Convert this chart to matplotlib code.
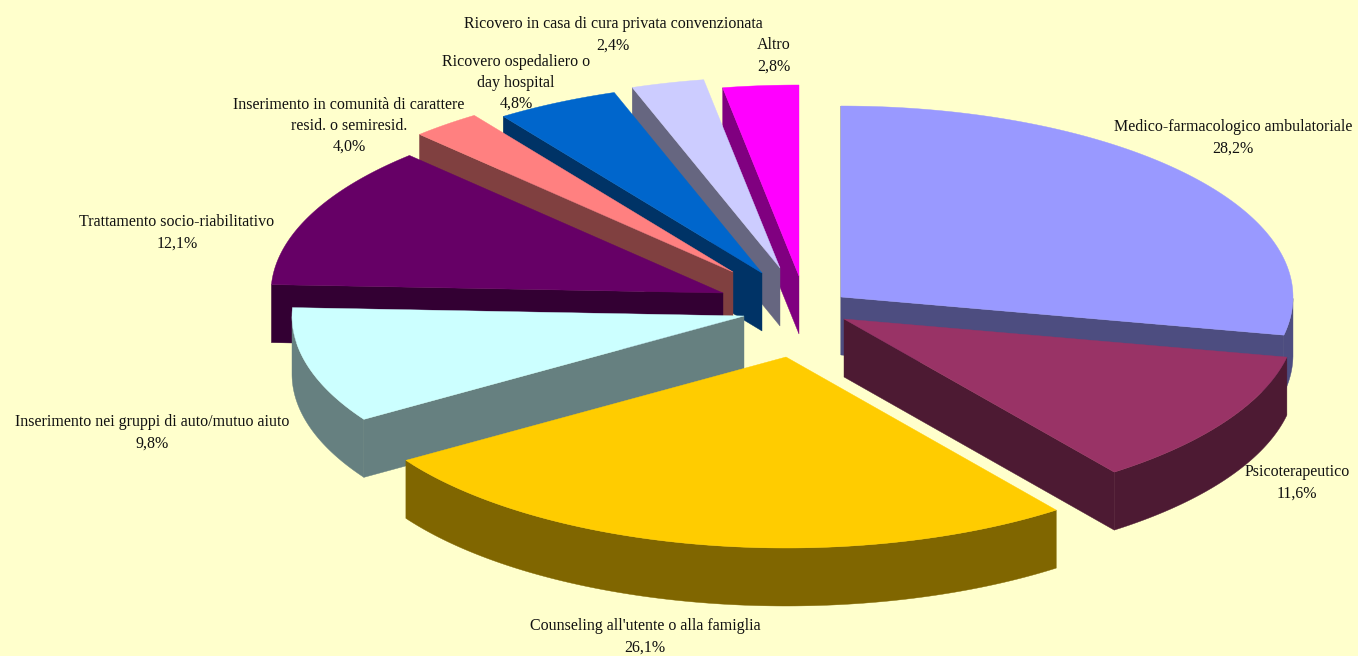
import numpy as np
import matplotlib
matplotlib.use("Agg")
import matplotlib.pyplot as plt
from matplotlib.patches import Polygon

# shares as the slices are drawn (the 4,0% label sits on a slice of about 2.5)
names = ["Medico-farmacologico ambulatoriale", "Psicoterapeutico",
         "Counseling all'utente o alla famiglia",
         "Inserimento nei gruppi di auto/mutuo aiuto",
         "Trattamento socio-riabilitativo",
         "Inserimento in comunità di carattere\nresid. o semiresid.",
         "Ricovero ospedaliero o\nday hospital",
         "Ricovero in casa di cura privata convenzionata", "Altro"]
shares = [28.2, 11.6, 26.1, 9.8, 12.1, 2.5, 4.4, 2.6, 2.7]
labels = ["28,2%", "11,6%", "26,1%", "9,8%", "12,1%", "4,0%", "4,8%", "2,4%", "2,8%"]

top_colors = ["#9999FF", "#993366", "#FFCC00", "#CCFFFF", "#660066",
              "#FF8080", "#0066CC", "#CCCCFF", "#FF00FF"]
side_colors = ["#4D4D80", "#4D1A33", "#806600", "#668080", "#330033",
               "#804040", "#003366", "#666680", "#800080"]

# pixel position of each slice's tip (exploded pie)
tips = [(841, 297), (844, 319), (786, 357), (744, 316), (723, 293),
        (733, 272), (762, 273), (780, 268), (799, 276)]
label_pos = [(1233, 138), (1297, 483), (645, 637), (152, 433), (177, 233),
             (349, 126), (516, 83), (613, 35), (774, 56)]
RX, RY, DEPTH = 452, 191, 58
draw_order = [8, 7, 6, 5, 4, 3, 0, 1, 2]

fig = plt.figure(figsize=(13.58, 6.56), dpi=100, facecolor="#FFFFCC")
ax = fig.add_axes([0, 0, 1, 1])
ax.set_xlim(0, 1358)
ax.set_ylim(656, 0)
ax.axis("off")

edges = np.cumsum([0] + shares) / 100 * 2 * np.pi


def rim_point(tip, a):
    return tip[0] + RX * np.sin(a), tip[1] - RY * np.cos(a)


def cut_face(tip, a, i, z):
    x, y = rim_point(tip, a)
    pts = [tip, (x, y), (x, y + DEPTH), (tip[0], tip[1] + DEPTH)]
    ax.add_patch(Polygon(pts, closed=True, fc=side_colors[i], ec=side_colors[i], lw=0.3, zorder=z))


for z, i in enumerate(draw_order):
    tip = tips[i]
    a0, a1 = edges[i], edges[i + 1]
    theta = np.linspace(a0, a1, 120)
    xs = tip[0] + RX * np.sin(theta)
    ys = tip[1] - RY * np.cos(theta)

    # cut faces turned to the viewer only
    if np.sin(a0) < 0 or i == 0:
        cut_face(tip, a0, i, z)
    if 0 < a1 < np.pi:
        cut_face(tip, a1, i, z)

    # outer wall, lower half of the ellipse only
    front = (theta >= np.pi / 2) & (theta <= 3 * np.pi / 2)
    if front.sum() > 1:
        fx, fy = xs[front], ys[front]
        wall = list(zip(fx, fy)) + list(zip(fx[::-1], fy[::-1] + DEPTH))
        ax.add_patch(Polygon(wall, closed=True, fc=side_colors[i], ec=side_colors[i], lw=0.3, zorder=z))

    top = [tip] + list(zip(xs, ys))
    ax.add_patch(Polygon(top, closed=True, fc=top_colors[i], ec=top_colors[i], lw=0.3, zorder=z))

for name, lab, (x, y) in zip(names, labels, label_pos):
    ax.text(x, y, name + "\n" + lab, ha="center", va="center", ma="center", fontsize=11.5,
            family="Liberation Serif", color="#111111", linespacing=1.42, zorder=50)

fig.savefig("out.png", dpi=100, facecolor=fig.get_facecolor())
